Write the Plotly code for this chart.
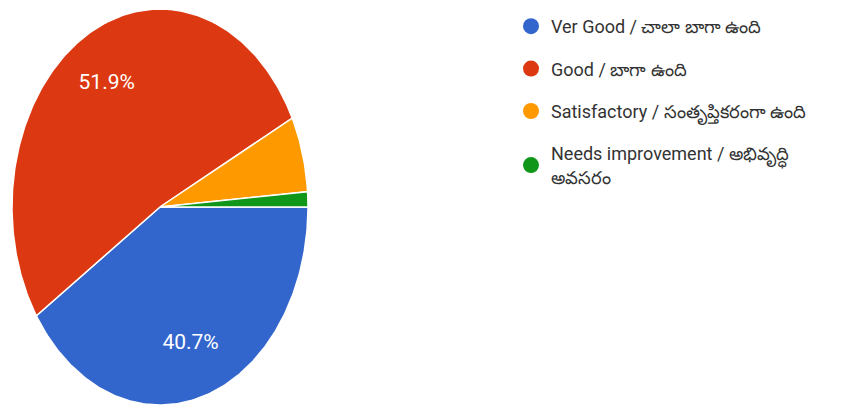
import numpy as np
import plotly.graph_objects as go

labels = [
    "Ver Good / చాలా బాగా ఉంది",
    "Good / బాగా ఉంది",
    "Satisfactory / సంతృప్తికరంగా ఉంది",
    "Needs improvement / అభివృద్ధి<br>అవసరం",
]
counts = [33, 42, 5, 1]
colors = ["#3366CC", "#DC3912", "#FF9900", "#109618"]

W, H = 867, 409
OFF = 8                      # page body margin in the browser
cx_px, cy_px = 160 - OFF, 207 - OFF   # pie centre in figure pixels
rx_px, ry_px = 148, 198      # pie radii in pixels (stretched pie)

fig = go.Figure()

total = float(sum(counts))
shares = [c / total for c in counts]
start = 0.0  # radians, starting at 3 o'clock, going clockwise
label_r = 0.72
for lab, share, col in zip(labels, shares, colors):
    end = start - share * 2 * np.pi
    n = max(4, int(abs(end - start) / (2 * np.pi) * 400))
    t = np.linspace(start, end, n)
    xs = np.concatenate([[0], np.cos(t), [0]])
    ys = np.concatenate([[0], np.sin(t), [0]])
    fig.add_trace(go.Scatter(
        x=xs, y=ys, mode="lines", fill="toself", fillcolor=col,
        line=dict(color="white", width=1.5), showlegend=False,
        hoverinfo="skip",
    ))
    if share > 0.1:
        mid = (start + end) / 2
        fig.add_trace(go.Scatter(
            x=[label_r * np.cos(mid)], y=[label_r * np.sin(mid)],
            mode="text", text=[f"{share*100:.1f}%"],
            textfont=dict(color="white", size=21, family="Roboto, Arial"),
            showlegend=False, hoverinfo="skip",
        ))
    start = end

for i, (lab, col) in enumerate(zip(labels, colors)):
    fig.add_trace(go.Scatter(
        x=[None], y=[None], mode="markers", name=lab,
        marker=dict(color=col, size=16, symbol="circle"),
        legendgroup=f"g{i}", showlegend=True,
    ))

fig.update_layout(
    width=W, height=H,
    margin=dict(l=0, r=0, t=0, b=0),
    paper_bgcolor="white", plot_bgcolor="white",
    xaxis=dict(range=[-cx_px / rx_px, (W - cx_px) / rx_px], visible=False,
               fixedrange=True),
    yaxis=dict(range=[-(H - cy_px) / ry_px, cy_px / ry_px], visible=False,
               fixedrange=True),
    legend=dict(
        x=(511 - OFF) / W, y=1, xanchor="left", yanchor="top",
        font=dict(family="Roboto, Arial", size=18, color="#333333"),
        tracegroupgap=16, itemsizing="trace", traceorder="grouped",
        bgcolor="rgba(0,0,0,0)",
    ),
    showlegend=True,
)

fig.write_html("out.html")
